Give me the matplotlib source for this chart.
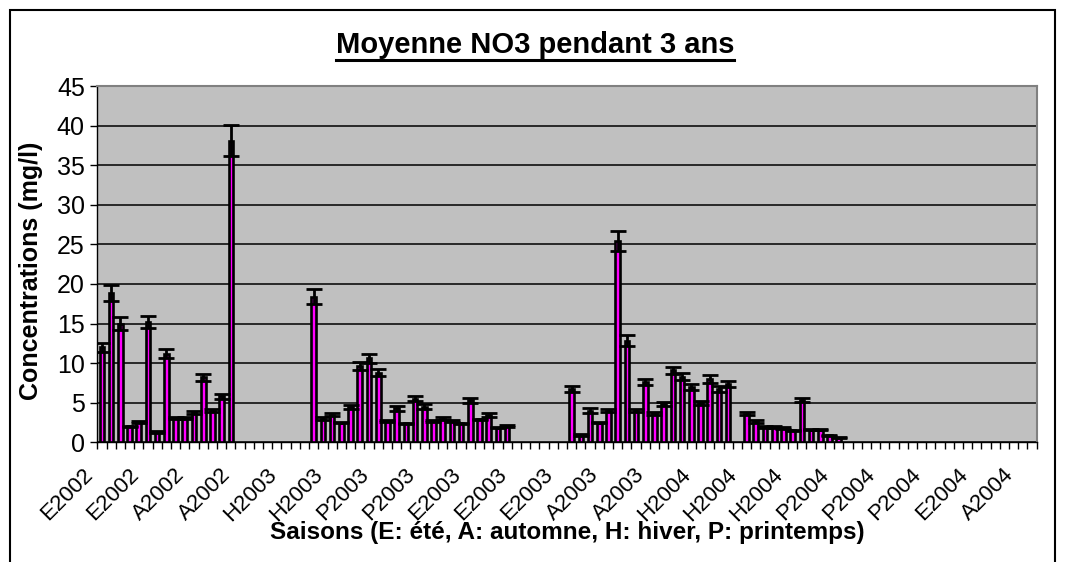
import numpy as np
import matplotlib
matplotlib.use('Agg')
import matplotlib.pyplot as plt
from matplotlib.lines import Line2D
from matplotlib.patches import Rectangle
from matplotlib.transforms import ScaledTranslation

plt.rcParams['font.family'] = ['Liberation Sans', 'DejaVu Sans']

nan = np.nan

# one slot per sampling, blank slots have no measure
means = ([12.0, 18.9, 15.0, 2.0, 2.6, 15.2, 1.3, 11.2, 3.1, 3.1, 3.8, 8.2, 4.0, 5.8, 38.1]
         + [nan] * 8
         + [18.4, 3.0, 3.5, 2.5, 4.4, 9.6, 10.6, 8.8, 2.7, 4.3, 2.4, 5.5, 4.5, 2.7, 3.0, 2.7,
            2.4, 5.3, 2.9, 3.45, 1.85, 2.05]
         + [nan] * 6
         + [6.75, 0.9, 4.0, 2.5, 4.0, 25.4, 12.8, 4.0, 7.65, 3.66, 4.84, 9.1, 8.3, 7.0, 5.0,
            8.0, 6.75, 7.35]
         + [nan]
         + [3.6, 2.65, 1.9, 1.9, 1.8, 1.5, 5.34, 1.6, 1.6, 0.9, 0.6]
         + [nan] * 21)

errors = ([0.6, 1.0, 0.8, 0.1, 0.15, 0.8, 0.1, 0.6, 0.15, 0.15, 0.2, 0.45, 0.2, 0.3, 2.0]
          + [nan] * 8
          + [0.9, 0.15, 0.2, 0.1, 0.25, 0.5, 0.6, 0.45, 0.1, 0.3, 0.1, 0.3, 0.3, 0.1, 0.15, 0.1,
             0.1, 0.3, 0.1, 0.2, 0.1, 0.1]
          + [nan] * 6
          + [0.35, 0.1, 0.3, 0.1, 0.2, 1.3, 0.7, 0.2, 0.4, 0.15, 0.25, 0.45, 0.4, 0.4, 0.25,
             0.45, 0.35, 0.35]
          + [nan]
          + [0.2, 0.15, 0.1, 0.1, 0.1, 0.1, 0.3, 0.1, 0.1, 0.05, 0.05]
          + [nan] * 21)

# shown labels (one every 5 slots)
label_slots = [0, 5, 10, 15, 20, 25, 30, 35, 40, 45, 50, 55, 60, 65, 70, 75, 80, 85, 90, 95, 100]
tick_labels = ['E2002', 'E2002', 'A2002', 'A2002', 'H2003', 'H2003', 'P2003', 'P2003',
               'E2003', 'E2003', 'E2003', 'A2003', 'A2003', 'H2004', 'H2004', 'H2004',
               'P2004', 'P2004', 'P2004', 'E2004', 'A2004']

x = np.arange(len(means))

fig = plt.figure(figsize=(10.65, 5.62), dpi=100)
ax = fig.add_axes([97.3 / 1065, 1 - 442.3 / 562, (1036.7 - 97.3) / 1065, (442.3 - 86) / 562])
ax.set_facecolor('#C0C0C0')

ax.bar(x, means, width=0.5, color='#FF00FF', edgecolor='black', linewidth=1.9, zorder=3)
ax.errorbar(x, means, yerr=errors, fmt='none', ecolor='black', elinewidth=2,
            capsize=5.5, capthick=2, zorder=4)

ax.set_xlim(-0.5, len(means) - 0.5)
ax.set_ylim(0, 45)
ax.set_yticks(np.arange(0, 46, 5))
ax.yaxis.grid(True, color='black', linewidth=1.1)
ax.set_axisbelow(True)
ax.tick_params(axis='y', direction='out', length=5, width=1, labelsize=18, pad=4)

ax.set_xticks(np.arange(len(means) + 1) - 0.5)
ax.set_xticklabels([])
ax.tick_params(axis='x', which='major', direction='out', length=5, width=1)
ax.set_xticks(label_slots, tick_labels, minor=True)
ax.tick_params(axis='x', which='minor', length=0, labelsize=16, pad=16)
shift = ScaledTranslation(-20 / 100, 0, fig.dpi_scale_trans)
for t in ax.get_xticklabels(minor=True):
    t.set_rotation(45)
    t.set_ha('right')
    t.set_va('top')
    t.set_rotation_mode('anchor')
    t.set_transform(t.get_transform() + shift)

for s in ['top', 'right']:
    ax.spines[s].set_color('#808080')
    ax.spines[s].set_linewidth(1.5)
for s in ['left', 'bottom']:
    ax.spines[s].set_color('black')
    ax.spines[s].set_linewidth(1)

ax.set_ylabel('Concentrations (mg/l)', fontsize=18, fontweight='bold')
ax.yaxis.set_label_coords(-54 / 939.4, 0.48)
fig.text(567 / 1065, 1 - 533 / 562, 'Saisons (E: été, A: automne, H: hiver, P: printemps)',
         fontsize=17.5, fontweight='bold', ha='center', va='center')

title = fig.text(535 / 1065, 1 - 45 / 562, 'Moyenne NO3 pendant 3 ans', fontsize=21,
                 fontweight='bold', ha='center', va='center')

# chart frame
fig.patches.append(Rectangle((10 / 1065, -0.1), 1045 / 1065, 1 - 10 / 562 + 0.1, fill=False,
                             edgecolor='black', linewidth=1.5, transform=fig.transFigure))

# underline the title
fig.canvas.draw()
bb = title.get_window_extent()
fig.lines.append(Line2D([bb.x0 / 1065, bb.x1 / 1065], [(bb.y0 - 1) / 562, (bb.y0 - 1) / 562],
                        color='black', linewidth=2.2, transform=fig.transFigure))

fig.savefig('out.png', dpi=100)
